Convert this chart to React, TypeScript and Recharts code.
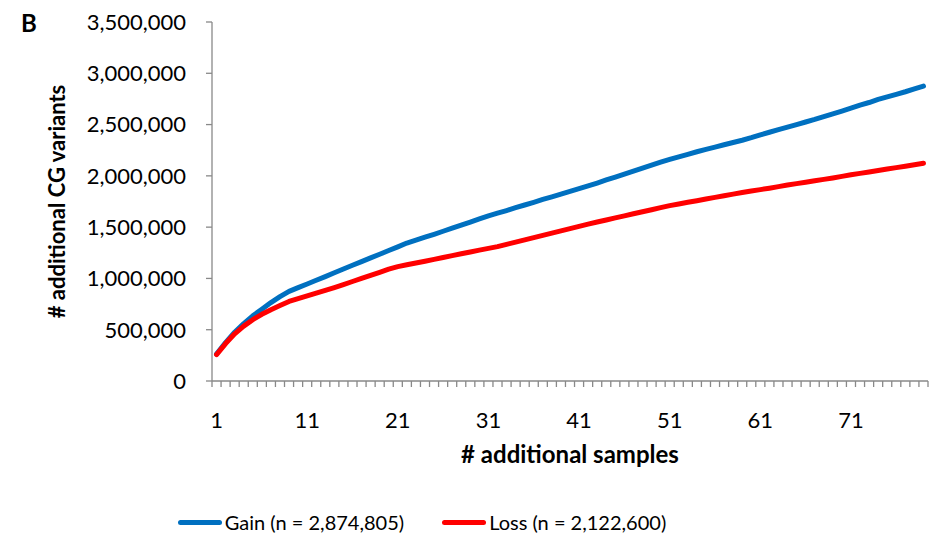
import React from "react";
import { LineChart, Line, XAxis, YAxis, Legend, Label } from "recharts";

const samples = [
  1, 2, 3, 4, 5, 6, 7, 8, 9, 10, 11, 12, 13, 14, 15, 16, 17, 18, 19, 20,
  21, 22, 23, 24, 25, 26, 27, 28, 29, 30, 31, 32, 33, 34, 35, 36, 37, 38, 39, 40,
  41, 42, 43, 44, 45, 46, 47, 48, 49, 50, 51, 52, 53, 54, 55, 56, 57, 58, 59, 60,
  61, 62, 63, 64, 65, 66, 67, 68, 69, 70, 71, 72, 73, 74, 75, 76, 77, 78, 79,
];

const gain = [
  263000, 375000, 475000, 560000, 635000, 700000, 765000, 822000, 874000, 910000,
  946000, 982000, 1018000, 1055000, 1092000, 1128000, 1164000, 1200000, 1236000, 1272000,
  1308000, 1345000, 1373000, 1402000, 1430000, 1460000, 1490000, 1520000, 1550000, 1580000,
  1610000, 1636000, 1662000, 1690000, 1716000, 1742000, 1770000, 1795000, 1822000, 1848000,
  1875000, 1902000, 1930000, 1960000, 1988000, 2017000, 2046000, 2075000, 2104000, 2133000,
  2160000, 2185000, 2210000, 2235000, 2258000, 2280000, 2303000, 2325000, 2347000, 2372000,
  2400000, 2425000, 2450000, 2475000, 2500000, 2525000, 2550000, 2578000, 2605000, 2632000,
  2660000, 2690000, 2715000, 2745000, 2770000, 2795000, 2820000, 2848000, 2874805,
];

const loss = [
  258000, 365000, 460000, 535000, 598000, 650000, 695000, 736000, 776000, 803000,
  830000, 857000, 884000, 911000, 940000, 970000, 1000000, 1030000, 1060000, 1090000,
  1115000, 1133000, 1150000, 1168000, 1186000, 1204000, 1222000, 1240000, 1258000, 1276000,
  1293000, 1310000, 1332000, 1354000, 1376000, 1398000, 1420000, 1442000, 1464000, 1486000,
  1508000, 1530000, 1550000, 1570000, 1590000, 1610000, 1630000, 1650000, 1670000, 1690000,
  1710000, 1726000, 1742000, 1758000, 1774000, 1790000, 1806000, 1822000, 1838000, 1852000,
  1866000, 1880000, 1895000, 1910000, 1924000, 1938000, 1952000, 1966000, 1980000, 1995000,
  2010000, 2024000, 2038000, 2052000, 2066000, 2080000, 2094000, 2108000, 2122600,
];

const xLabels = [1, 11, 21, 31, 41, 51, 61, 71];
const yTicks = [0, 500000, 1000000, 1500000, 2000000, 2500000, 3000000, 3500000];

const FONT = "Lato, 'Open Sans', sans-serif";
const AXIS = "#898989";
const BLUE = "#0070C0";
const RED = "#FF0000";

const chartData = samples.map((s, i) => ({ sample: s, gain: gain[i], loss: loss[i] }));

// minor ticks sit on category boundaries, labels on category centres (Excel style)
const xTicks: number[] = [];
samples.forEach((s) => {
  xTicks.push(s - 0.5);
  xTicks.push(s);
});
xTicks.push(samples[samples.length - 1] + 0.5);

const XTick = (props: any) => {
  const { x, y, payload } = props;
  const v = payload.value;
  if (!Number.isInteger(v)) {
    return <line x1={x} y1={y} x2={x} y2={y + 6} stroke={AXIS} strokeWidth={1.3} />;
  }
  if (!xLabels.includes(v)) return null;
  return (
    <text x={x} y={y + 38} textAnchor="middle" dominantBaseline="central" fontSize={22} fontFamily={FONT} fill="#000">
      {v}
    </text>
  );
};

const legendItems = [
  { name: "Gain (n = 2,874,805)", color: BLUE },
  { name: "Loss (n = 2,122,600)", color: RED },
];

const renderLegend = () => (
  <div style={{ display: "flex", justifyContent: "center", gap: 38, fontFamily: FONT, fontSize: 20, color: "#000" }}>
    {legendItems.map((item) => (
      <div key={item.name} style={{ display: "flex", alignItems: "center" }}>
        <span style={{ display: "inline-block", width: 44, height: 5, borderRadius: 3, background: item.color, marginRight: 3 }} />
        <span>{item.name}</span>
      </div>
    ))}
  </div>
);

export default function App() {
  return (
    <div style={{ position: "absolute", left: 0, top: 0, width: 931, height: 543, background: "#fff" }}>
      <div style={{ position: "absolute", left: 21, top: 8, fontFamily: FONT, fontWeight: 700, fontSize: 24 }}>B</div>
      <LineChart width={931} height={543} data={chartData} margin={{ top: 22, right: 3, left: 0, bottom: 72 }}>
        <XAxis
          dataKey="sample"
          type="number"
          domain={[0.5, 79.5]}
          ticks={xTicks}
          interval={0}
          tickSize={0}
          tickMargin={0}
          tickLine={false}
          tick={<XTick />}
          axisLine={{ stroke: AXIS, strokeWidth: 1.3 }}
          height={90}
        >
          <Label
            value="# additional samples"
            position="insideBottom"
            offset={8}
            style={{ fontFamily: FONT, fontWeight: 700, fontSize: 24, fill: "#000" }}
          />
        </XAxis>
        <YAxis
          type="number"
          domain={[0, 3500000]}
          ticks={yTicks}
          interval={0}
          width={212}
          tickSize={6}
          tickMargin={20}
          tickFormatter={(v: number) => v.toLocaleString("en-US")}
          tick={{ fontFamily: FONT, fontSize: 22, fill: "#000" }}
          tickLine={{ stroke: AXIS, strokeWidth: 1.3 }}
          axisLine={{ stroke: AXIS, strokeWidth: 1.3 }}
        >
          <Label
            value="# additional CG variants"
            angle={-90}
            position="insideLeft"
            offset={57}
            style={{ textAnchor: "middle", fontFamily: FONT, fontWeight: 700, fontSize: 22, fill: "#000" }}
          />
        </YAxis>
        <Legend
          verticalAlign="middle"
          align="center"
          content={renderLegend}
          wrapperStyle={{ top: 510, left: 0, width: 844 }}
        />
        <Line dataKey="gain" name="Gain (n = 2,874,805)" stroke={BLUE} strokeWidth={5} strokeLinecap="round" strokeLinejoin="round" dot={false} isAnimationActive={false} />
        <Line dataKey="loss" name="Loss (n = 2,122,600)" stroke={RED} strokeWidth={5} strokeLinecap="round" strokeLinejoin="round" dot={false} isAnimationActive={false} />
      </LineChart>
    </div>
  );
}
